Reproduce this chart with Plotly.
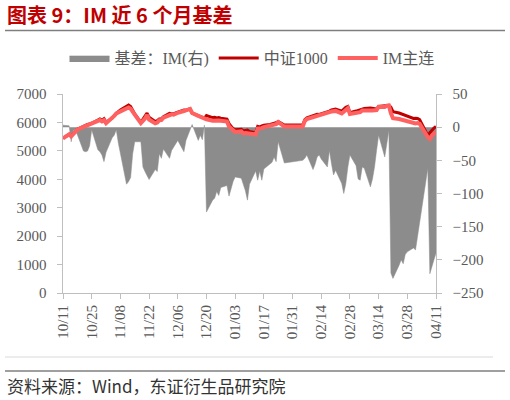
import plotly.graph_objects as go

# trading days (2024-10-11 .. 2025-04-11)
dates = [
    "2024-10-11", "2024-10-14", "2024-10-15", "2024-10-16", "2024-10-17", "2024-10-18",
    "2024-10-21", "2024-10-22", "2024-10-23", "2024-10-24", "2024-10-25",
    "2024-10-28", "2024-10-29", "2024-10-30", "2024-10-31", "2024-11-01",
    "2024-11-04", "2024-11-05", "2024-11-06", "2024-11-07", "2024-11-08",
    "2024-11-11", "2024-11-12", "2024-11-13", "2024-11-14", "2024-11-15",
    "2024-11-18", "2024-11-19", "2024-11-20", "2024-11-21", "2024-11-22",
    "2024-11-25", "2024-11-26", "2024-11-27", "2024-11-28", "2024-11-29",
    "2024-12-02", "2024-12-03", "2024-12-04", "2024-12-05", "2024-12-06",
    "2024-12-09", "2024-12-10", "2024-12-11", "2024-12-12", "2024-12-13",
    "2024-12-16", "2024-12-17", "2024-12-18", "2024-12-19", "2024-12-20",
    "2024-12-23", "2024-12-24", "2024-12-25", "2024-12-26", "2024-12-27",
    "2024-12-30", "2024-12-31", "2025-01-02", "2025-01-03",
    "2025-01-06", "2025-01-07", "2025-01-08", "2025-01-09", "2025-01-10",
    "2025-01-13", "2025-01-14", "2025-01-15", "2025-01-16", "2025-01-17",
    "2025-01-20", "2025-01-21", "2025-01-22", "2025-01-23", "2025-01-24",
    "2025-01-27", "2025-02-05", "2025-02-06", "2025-02-07",
    "2025-02-10", "2025-02-11", "2025-02-12", "2025-02-13", "2025-02-14",
    "2025-02-17", "2025-02-18", "2025-02-19", "2025-02-20", "2025-02-21",
    "2025-02-24", "2025-02-25", "2025-02-26", "2025-02-27", "2025-02-28",
    "2025-03-03", "2025-03-04", "2025-03-05", "2025-03-06", "2025-03-07",
    "2025-03-10", "2025-03-11", "2025-03-12", "2025-03-13", "2025-03-14",
    "2025-03-17", "2025-03-18", "2025-03-19", "2025-03-20", "2025-03-21",
    "2025-03-24", "2025-03-25", "2025-03-26", "2025-03-27", "2025-03-28",
    "2025-03-31", "2025-04-01", "2025-04-02", "2025-04-03",
    "2025-04-07", "2025-04-08", "2025-04-09", "2025-04-10", "2025-04-11",
]

# 中证1000 close
index_close = [
    5440, 5580, 5530, 5590, 5680, 5760,
    5880, 5910, 5930, 5950, 5970,
    6080, 6120, 6080, 6130, 6010,
    6150, 6240, 6320, 6380, 6440,
    6570, 6610, 6560, 6440, 6300,
    6000, 6100, 6200, 6330, 6180,
    6030, 6060, 6120, 6130, 6200,
    6320, 6320, 6300, 6340, 6360,
    6440, 6430, 6460, 6480, 6330,
    6250, 6210, 6180, 6150, 6240,
    6170, 6180, 6160, 6170, 6150,
    6120, 5960, 5780, 5740,
    5760, 5700, 5720, 5730, 5680,
    5640, 5860, 5840, 5880, 5900,
    5930, 5950, 5950, 5990, 6030,
    5910, 5910, 6100, 6160,
    6240, 6260, 6290, 6280, 6300,
    6370, 6400, 6440, 6460, 6470,
    6400, 6480, 6530, 6560, 6340,
    6400, 6420, 6440, 6480, 6490,
    6510, 6500, 6480, 6470, 6560,
    6590, 6610, 6600, 6540, 6380,
    6330, 6300, 6280, 6260, 6220,
    6140, 6150, 6140, 6100,
    5540, 5640, 5740, 5800, 5860,
]

# IM主连 close
im_close = [
    5443, 5582, 5508, 5585, 5677, 5748,
    5844, 5873, 5894, 5922, 5966,
    6046, 6083, 6038, 6078, 5972,
    6134, 6228, 6316, 6356, 6400,
    6484, 6528, 6484, 6400, 6278,
    5978, 6040, 6133, 6258, 6101,
    5966, 5993, 6080, 6083, 6167,
    6273, 6285, 6270, 6315, 6340,
    6403, 6410, 6448, 6475, 6334,
    6230, 6198, 6161, 6153, 6112,
    6060, 6073, 6063, 6067, 6059,
    6032, 5856, 5698, 5665,
    5683, 5615, 5624, 5620, 5594,
    5574, 5780, 5774, 5800, 5837,
    5874, 5897, 5905, 5938, 6008,
    5856, 5860, 6053, 6118,
    6176, 6204, 6245, 6238, 6252,
    6310, 6365, 6385, 6388, 6405,
    6315, 6380, 6445, 6500, 6298,
    6342, 6342, 6360, 6420, 6428,
    6420, 6422, 6420, 6435, 6548,
    6545, 6585, 6595, 6320, 6152,
    6122, 6100, 6074, 6068, 6032,
    5958, 5965, 5975, 5952,
    5478, 5419, 5528, 5600, 5670,
]

# 基差 IM (right axis)
basis = [
    3, 2, -22, -5, -3, -12,
    -36, -37, -36, -28, -4,
    -34, -37, -42, -52, -38,
    -16, -12, -4, -24, -40,
    -86, -82, -76, -40, -22,
    -22, -60, -67, -72, -79,
    -64, -67, -40, -47, -33,
    -47, -35, -30, -25, -20,
    -37, -20, -12, -5, 4,
    -20, -12, -19, 3, -128,
    -110, -107, -97, -103, -91,
    -88, -104, -82, -75,
    -77, -85, -96, -110, -86,
    -66, -80, -66, -80, -63,
    -56, -53, -45, -52, -22,
    -54, -50, -47, -42,
    -64, -56, -45, -42, -48,
    -60, -35, -55, -72, -65,
    -85, -100, -85, -60, -42,
    -58, -78, -80, -60, -62,
    -90, -78, -60, -35, -12,
    -45, -25, -5, -220, -228,
    -208, -200, -206, -192, -188,
    -182, -185, -165, -148,
    -62, -221, -212, -200, -190,
]

serif = "Times New Roman, Liberation Serif, Noto Sans CJK SC, serif"
cjk = "Noto Sans CJK SC, sans-serif"
axis_grey = "#BFBFBF"
text_grey = "#595959"

# plot area in pixels: x 63..436, y 94..293
def px(x):
    return (x - 63) / 373.0

def py(y):
    return (293 - y) / 199.0

fig = go.Figure()

# basis sits on the primary axis so the price lines draw above it
fig.add_trace(go.Scatter(
    x=dates, y=basis, name="基差：IM(右)", yaxis="y",
    mode="lines", fill="tozeroy", fillcolor="#8C8C8C",
    line=dict(color="#8C8C8C", width=0.5),
))
fig.add_trace(go.Scatter(
    x=dates, y=index_close, name="中证1000", yaxis="y2",
    mode="lines", line=dict(color="#C00000", width=3),
))
fig.add_trace(go.Scatter(
    x=dates, y=im_close, name="IM主连", yaxis="y2",
    mode="lines", line=dict(color="#FF6161", width=4),
))

fig.update_layout(
    width=510, height=400,
    margin=dict(l=63, r=74, t=94, b=107),
    paper_bgcolor="white", plot_bgcolor="white",
    font=dict(family=serif, color=text_grey, size=13),
    showlegend=True,
    legend=dict(
        orientation="h", x=px(252), xanchor="center", y=py(58), yanchor="middle",
        font=dict(family=serif, size=16, color=text_grey),
        itemwidth=40, bgcolor="rgba(0,0,0,0)",
    ),
    xaxis=dict(
        type="date", range=["2024-10-11", "2025-04-11"],
        tick0="2024-10-11", dtick=14 * 86400000, tickformat="%m/%d",
        tickangle=-90, ticks="outside", ticklen=5, tickcolor=axis_grey,
        showline=True, linecolor=axis_grey, linewidth=1,
        showgrid=False, zeroline=False,
        tickfont=dict(family=serif, size=15, color=text_grey),
    ),
    yaxis=dict(
        range=[-250, 50], dtick=50, side="right",
        ticks="outside", ticklen=5, tickcolor=axis_grey, tickprefix="  ",
        showline=True, linecolor=axis_grey, linewidth=1,
        showgrid=False, zeroline=False,
        tickfont=dict(family=serif, size=15, color=text_grey),
    ),
    yaxis2=dict(
        range=[0, 7000], dtick=1000, side="left", overlaying="y",
        ticks="outside", ticklen=5, tickcolor=axis_grey, ticksuffix="  ",
        showline=True, linecolor=axis_grey, linewidth=1,
        showgrid=False, zeroline=False,
        tickfont=dict(family=serif, size=15, color=text_grey),
    ),
)

# title and frame lines
fig.add_annotation(
    text="<b>图表 9：IM 近 6 个月基差</b>", xref="paper", yref="paper",
    x=px(5), y=py(15), xanchor="left", yanchor="middle", showarrow=False,
    font=dict(family=cjk, size=20, color="#C00000"),
)
fig.add_shape(type="line", xref="paper", yref="paper",
              x0=px(5), x1=px(505), y0=py(30.5), y1=py(30.5),
              line=dict(color="#7F7F7F", width=1.5))
fig.add_shape(type="line", xref="paper", yref="paper",
              x0=px(5), x1=px(493), y0=py(357), y1=py(357),
              line=dict(color="#D9D9D9", width=1))
fig.add_shape(type="line", xref="paper", yref="paper",
              x0=px(5), x1=px(505), y0=py(371), y1=py(371),
              line=dict(color="#7F7F7F", width=1.5))
fig.add_annotation(
    text="资料来源：Wind，东证衍生品研究院", xref="paper", yref="paper",
    x=px(5), y=py(385), xanchor="left", yanchor="middle", showarrow=False,
    font=dict(family=cjk, size=17, color="#333333"),
)

# page body has a default 8px margin; drop it so the figure sits at 0,0
fig.write_html("out.html", config={"displayModeBar": False},
               post_script="document.body.style.margin='0';")
